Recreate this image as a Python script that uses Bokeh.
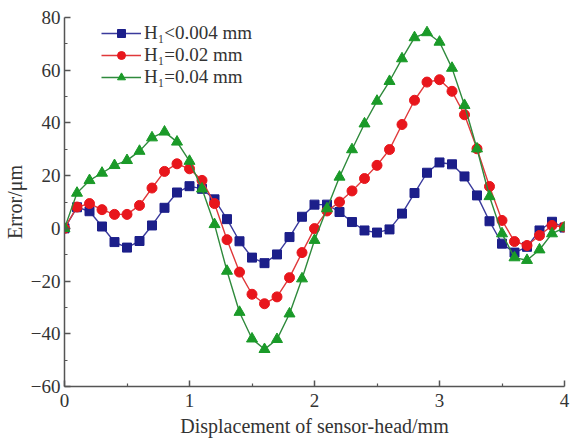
from bokeh.plotting import figure
from bokeh.models import Range1d, FixedTicker, Legend, LegendItem
from bokeh.embed import file_html
from bokeh.resources import INLINE

x = [0.0, 0.1, 0.2, 0.3, 0.4, 0.5, 0.6, 0.7, 0.8, 0.9, 1.0,
     1.1, 1.2, 1.3, 1.4, 1.5, 1.6, 1.7, 1.8, 1.9, 2.0,
     2.1, 2.2, 2.3, 2.4, 2.5, 2.6, 2.7, 2.8, 2.9, 3.0,
     3.1, 3.2, 3.3, 3.4, 3.5, 3.6, 3.7, 3.8, 3.9, 4.0]

h_0004 = [0, 8, 6.5, 0.7, -5.2, -7.3, -4.8, 1.1, 7.8, 13.6, 16,
          15, 11, 3.5, -4.9, -11.1, -13.2, -9.9, -3.3, 4.4, 9,
          9, 6.2, 2.4, -0.8, -1.6, -0.4, 5.6, 13.4, 21.1, 25,
          24.3, 19.7, 12.5, 2.7, -5.8, -9.2, -7, -0.8, 2.5, 0.3]

h_002 = [0, 8.1, 9.4, 7.1, 5.3, 5.3, 8.7, 15.3, 21.6, 24.5, 22.6,
         18.2, 9.4, -4.3, -16.6, -25, -28.6, -26, -18.7, -9.2, -0.1,
         6.6, 10, 14.2, 18.9, 23.9, 29.9, 39.4, 48.6, 55.5, 56.4,
         52, 43.1, 30.2, 15.9, 3, -5, -6.5, -2.7, 1.1, 0.5]

h_004 = [0, 13.4, 18.2, 21, 23.9, 25.8, 29.3, 34.4, 36.6, 32.8, 25.5,
         15, 1.5, -16.2, -31.8, -41.9, -45.9, -42.1, -32.4, -19.1, -4.5,
         7.5, 19.5, 29.9, 39.7, 48.3, 55.8, 64.4, 72.4, 74.3, 70.7,
         60.8, 46.7, 30.2, 12.1, -2, -11.1, -12.1, -8.1, -2, 0.3]

labels = ["H\u2081<0.004 mm", "H\u2081=0.02 mm", "H\u2081=0.04 mm"]
x_ticks = [0, 1, 2, 3, 4]
x_minor = [0.5, 1.5, 2.5, 3.5]
y_ticks = [-60, -40, -20, 0, 20, 40, 60, 80]
y_minor = [-50, -30, -10, 10, 30, 50, 70]

FONT = "Liberation Serif"

p = figure(width=570, height=439, x_range=Range1d(0, 4), y_range=Range1d(-60, 80),
           output_backend="svg", toolbar_location=None,
           min_border_left=63, min_border_right=6, min_border_top=17, min_border_bottom=53)
p.xgrid.visible = False
p.ygrid.visible = False
p.outline_line_color = None
p.background_fill_color = "white"
p.border_fill_color = "white"

p.xaxis.ticker = FixedTicker(ticks=x_ticks, minor_ticks=x_minor)
p.yaxis.ticker = FixedTicker(ticks=y_ticks, minor_ticks=y_minor)
p.yaxis.major_label_overrides = {t: (("\u2212" + str(-t)) if t < 0 else str(t)) for t in y_ticks}
p.xaxis.axis_label = "Displacement of sensor-head/mm"
p.yaxis.axis_label = "Error/\u03bcm"
for ax in (p.xaxis[0], p.yaxis[0]):
    ax.axis_line_color = "#555555"
    ax.axis_line_width = 1.5
    ax.major_tick_line_color = "#555555"
    ax.minor_tick_line_color = "#555555"
    ax.major_tick_line_width = 1.5
    ax.minor_tick_line_width = 1.2
    ax.major_tick_in = 6
    ax.major_tick_out = 0
    ax.minor_tick_in = 3
    ax.minor_tick_out = 0
    ax.major_label_text_font = FONT
    ax.major_label_text_font_size = "19px"
    ax.major_label_text_color = "#333333"
    ax.axis_label_text_font = FONT
    ax.axis_label_text_font_size = "20px"
    ax.axis_label_text_font_style = "normal"
    ax.axis_label_text_color = "#333333"
p.xaxis.major_label_standoff = 7
p.xaxis.axis_label_standoff = 5
p.yaxis.major_label_standoff = 4
p.yaxis.axis_label_standoff = 2

series = [
    (h_0004, "#3a3a9c", "#1c1f8a", "square", 9),
    (h_002, "#e0383a", "#e8161c", "circle", 10),
    (h_004, "#2f8a3c", "#1a9a28", "triangle", 11),
]
items = []
for (ys, lc, mc, mk, sz), lab in zip(series, labels):
    l = p.line(x, ys, line_color=lc, line_width=1.4)
    s = p.scatter(x, ys, marker=mk, size=sz, fill_color=mc, line_color=mc)
    items.append(LegendItem(label=lab, renderers=[l, s]))

legend = Legend(items=items, location=(37, 298), padding=0, margin=0,
                border_line_alpha=0, background_fill_alpha=0,
                glyph_width=40, glyph_height=20, label_height=20, spacing=0,
                label_standoff=3,
                label_text_font=FONT, label_text_font_size="19px",
                label_text_color="#333333")
p.add_layout(legend)

open("out.html", "w").write(file_html(p, INLINE))
